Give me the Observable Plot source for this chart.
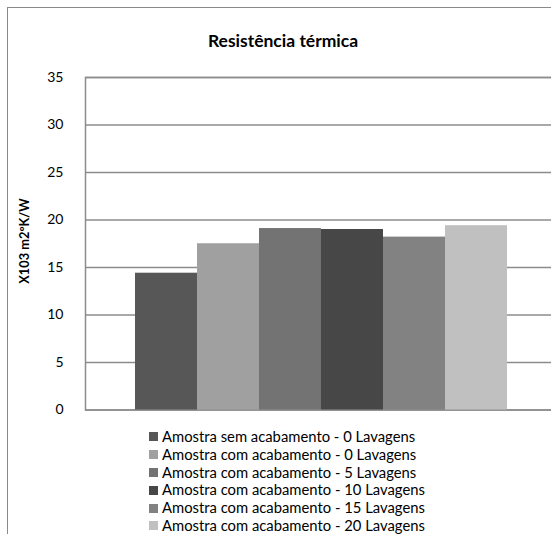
<!DOCTYPE html>
<html><head><meta charset="utf-8">
<script src="https://cdn.jsdelivr.net/npm/d3@7"></script>
<script src="https://cdn.jsdelivr.net/npm/@observablehq/plot@0.6"></script>
<style>
html{overflow:hidden}
html,body{margin:0;padding:0;background:#fff}
body{width:551px;height:534px;overflow:hidden;position:relative;font-family:Lato,"Open Sans",sans-serif;color:#000}
#frame{position:absolute;left:7px;top:7px;width:560px;height:545px;border-left:1.5px solid #8a8a8a;border-top:1.5px solid #8a8a8a;box-sizing:border-box}
#chart{position:absolute;left:0;top:0}
#title{position:absolute;left:133px;width:300px;top:30px;text-align:center;font-weight:bold;font-size:17.5px;line-height:22px;white-space:nowrap}
#ylabel{position:absolute;left:24px;top:241px;transform:translate(-50%,-50%) rotate(-90deg);font-weight:bold;font-size:12.8px;white-space:nowrap}
#legend{position:absolute;left:149px;top:428px;font-size:14.8px}
#legend .row{height:17.8px;line-height:17.8px;display:flex;align-items:center;white-space:nowrap}
#legend .sw{width:9px;height:9px;margin-right:4px;flex:none}
</style>
</head><body>
<div id="frame"></div>
<div id="chart"></div>
<div id="title"></div>
<div id="ylabel"></div>
<div id="legend"></div>
<script>
const chartTitle = "Resistência térmica";
const yLabel = "X103 m2ºK/W";
const series = [
  "Amostra sem acabamento - 0 Lavagens",
  "Amostra com acabamento - 0 Lavagens",
  "Amostra com acabamento - 5 Lavagens",
  "Amostra com acabamento - 10 Lavagens",
  "Amostra com acabamento - 15 Lavagens",
  "Amostra com acabamento - 20 Lavagens"
];
const values = [14.4, 17.5, 19.1, 19.0, 18.2, 19.4];
const colors = ["#575757", "#a0a0a0", "#737373", "#474747", "#828282", "#c0c0c0"];
const yTicks = [0, 5, 10, 15, 20, 25, 30, 35];

document.getElementById("title").textContent = chartTitle;
document.getElementById("ylabel").textContent = yLabel;

const data = series.map((s, i) => ({serie: s, value: values[i]}));

const plot = Plot.plot({
  width: 551,
  height: 420,
  marginTop: 77,
  marginBottom: 10.5,
  marginLeft: 85,
  marginRight: -6,
  style: {fontFamily: "Lato, sans-serif", fontSize: "14px", color: "#000", background: "transparent", overflow: "hidden"},
  x: {type: "band", domain: series, range: [132, 509], padding: 0, axis: null},
  y: {domain: [0, 35], axis: null},
  color: {domain: series, range: colors},
  marks: [
    Plot.ruleY(yTicks, {stroke: "#8c8c8c", strokeWidth: 1.5}),
    Plot.frame({stroke: "#8c8c8c", strokeWidth: 1.5}),
    Plot.barY(data, {x: "serie", y: "value", fill: "serie"}),
    Plot.axisY({ticks: yTicks, tickSize: 0, tickPadding: 22, label: null, fill: "#000"})
  ]
});
document.getElementById("chart").appendChild(plot);

const leg = document.getElementById("legend");
series.forEach((s, i) => {
  const row = document.createElement("div");
  row.className = "row";
  const sw = document.createElement("span");
  sw.className = "sw";
  sw.style.background = colors[i];
  const t = document.createElement("span");
  t.textContent = s;
  row.appendChild(sw);
  row.appendChild(t);
  leg.appendChild(row);
});
</script>
</body></html>
